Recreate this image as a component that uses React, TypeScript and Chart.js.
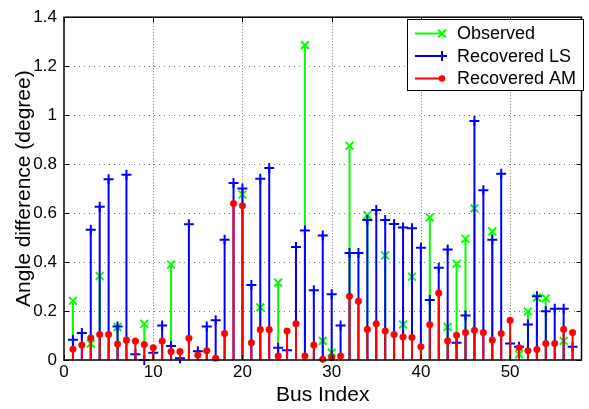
import React, { useEffect, useRef } from "react";
import { Chart, registerables } from "chart.js";

Chart.register(...registerables);

const busIndex = [
  1, 2, 3, 4, 5, 6, 7, 8, 9, 10, 11, 12, 13, 14, 15, 16, 17, 18, 19, 20,
  21, 22, 23, 24, 25, 26, 27, 28, 29, 30, 31, 32, 33, 34, 35, 36, 37, 38, 39, 40,
  41, 42, 43, 44, 45, 46, 47, 48, 49, 50, 51, 52, 53, 54, 55, 56, 57,
];

// null = observed marker hidden behind the other series in the picture
const observed: (number | null)[] = [
  0.242, null, 0.067, 0.343, null, 0.135, null, null, 0.148, null,
  null, 0.39, null, null, null, null, null, null, null, 0.676,
  null, 0.215, null, 0.316, null, null, 1.286, null, 0.078, 0.03,
  null, 0.875, null, 0.592, null, 0.427, null, 0.145, 0.34, null,
  0.582, null, 0.135, 0.393, 0.495, 0.619, null, 0.525, null, null,
  0.023, 0.198, 0.255, 0.252, null, 0.078, null,
];

const recoveredLS = [
  0.083, 0.11, 0.532, 0.626, 0.738, 0.137, 0.757, 0.023, 0.0, 0.03,
  0.141, 0.057, 0.007, 0.554, 0.036, 0.137, 0.162, 0.491, 0.723, 0.7,
  0.306, 0.74, 0.784, 0.05, 0.04, 0.462, 0.529, 0.285, 0.508, 0.269,
  0.141, 0.437, 0.437, 0.572, 0.613, 0.572, 0.555, 0.541, 0.538, 0.458,
  0.245, 0.377, 0.451, 0.07, 0.182, 0.976, 0.693, 0.491, 0.761, 0.067,
  0.054, 0.145, 0.26, 0.199, 0.209, 0.209, 0.054,
];

const recoveredAM = [
  0.044, 0.061, 0.09, 0.104, 0.104, 0.065, 0.081, 0.077, 0.063, 0.05,
  0.077, 0.034, 0.034, 0.089, 0.02, 0.038, 0.007, 0.108, 0.639, 0.63,
  0.07, 0.124, 0.124, 0.016, 0.118, 0.148, 0.016, 0.061, 0.003, 0.01,
  0.016, 0.26, 0.24, 0.125, 0.148, 0.118, 0.104, 0.094, 0.092, 0.054,
  0.144, 0.273, 0.078, 0.101, 0.112, 0.121, 0.112, 0.081, 0.108, 0.162,
  0.05, 0.038, 0.043, 0.067, 0.067, 0.125, 0.112,
];

const seriesLabels = ["Observed", "Recovered LS", "Recovered AM"];
const seriesColors = ["#00ff00", "#0000ff", "#ff0000"];
const seriesMarkers = ["crossRot", "cross", "circle"];

const xTicks = [0, 10, 20, 30, 40, 50];
const yTicks = [0, 0.2, 0.4, 0.6, 0.8, 1, 1.2, 1.4];
const yTickLabels = ["0", "0.2", "0.4", "0.6", "0.8", "1", "1.2", "1.4"];
const xRange = [0, 58];
const yRange = [0, 1.4];

const FONT = "'Liberation Sans', Arial, Helvetica, sans-serif";

function drawMarker(ctx: CanvasRenderingContext2D, style: string, x: number, y: number, color: string) {
  ctx.save();
  ctx.strokeStyle = color;
  ctx.fillStyle = color;
  ctx.lineWidth = 2;
  ctx.beginPath();
  if (style === "cross") {
    ctx.moveTo(x - 5, y);
    ctx.lineTo(x + 5, y);
    ctx.moveTo(x, y - 5);
    ctx.lineTo(x, y + 5);
    ctx.stroke();
  } else if (style === "crossRot") {
    ctx.moveTo(x - 4, y - 4);
    ctx.lineTo(x + 4, y + 4);
    ctx.moveTo(x - 4, y + 4);
    ctx.lineTo(x + 4, y - 4);
    ctx.stroke();
  } else {
    ctx.arc(x, y, 3.3, 0, Math.PI * 2);
    ctx.fill();
  }
  ctx.restore();
}

const stemPlugin = {
  id: "stems",
  beforeDatasetDraw(chart: any, args: any) {
    const ds = chart.data.datasets[args.index];
    const ctx = chart.ctx as CanvasRenderingContext2D;
    const y0 = chart.scales.y.getPixelForValue(0);
    ctx.save();
    ctx.strokeStyle = ds.borderColor;
    ctx.lineWidth = 2;
    args.meta.data.forEach((pt: any) => {
      if (pt.skip || !isFinite(pt.y)) return;
      ctx.beginPath();
      ctx.moveTo(pt.x, y0);
      ctx.lineTo(pt.x, pt.y);
      ctx.stroke();
    });
    ctx.restore();
  },
};

const gridFramePlugin = {
  id: "gridFrame",
  beforeDatasetsDraw(chart: any) {
    const ctx = chart.ctx as CanvasRenderingContext2D;
    const { left, right, top, bottom } = chart.chartArea;
    const xs = chart.scales.x;
    const ys = chart.scales.y;
    ctx.save();
    ctx.strokeStyle = "#7a7a7a";
    ctx.lineWidth = 1;
    ctx.setLineDash([1, 2]);
    xTicks.forEach((v) => {
      if (v === xRange[0]) return;
      const px = Math.round(xs.getPixelForValue(v)) + 0.5;
      ctx.beginPath();
      ctx.moveTo(px, top);
      ctx.lineTo(px, bottom);
      ctx.stroke();
    });
    ctx.setLineDash([1, 4]);
    yTicks.forEach((v) => {
      if (v === yRange[0] || v === yRange[1]) return;
      const py = Math.round(ys.getPixelForValue(v)) + 0.5;
      ctx.beginPath();
      ctx.moveTo(left, py);
      ctx.lineTo(right, py);
      ctx.stroke();
    });
    ctx.restore();
  },
  afterDatasetsDraw(chart: any) {
    const ctx = chart.ctx as CanvasRenderingContext2D;
    const { left, right, top, bottom } = chart.chartArea;
    const xs = chart.scales.x;
    const ys = chart.scales.y;
    ctx.save();
    ctx.strokeStyle = "#000";
    ctx.lineWidth = 1.5;
    ctx.setLineDash([]);
    ctx.strokeRect(left, top, right - left, bottom - top);
    ctx.lineWidth = 1;
    const tl = 5;
    xTicks.forEach((v) => {
      const px = Math.round(xs.getPixelForValue(v)) + 0.5;
      ctx.beginPath();
      ctx.moveTo(px, bottom);
      ctx.lineTo(px, bottom - tl);
      ctx.moveTo(px, top);
      ctx.lineTo(px, top + tl);
      ctx.stroke();
    });
    yTicks.forEach((v) => {
      const py = Math.round(ys.getPixelForValue(v)) + 0.5;
      ctx.beginPath();
      ctx.moveTo(left, py);
      ctx.lineTo(left + tl, py);
      ctx.moveTo(right, py);
      ctx.lineTo(right - tl, py);
      ctx.stroke();
    });

    // legend
    const bx = 407.5, by = 19.5, bw = 176, bh = 71;
    ctx.fillStyle = "#fff";
    ctx.fillRect(bx, by, bw, bh);
    ctx.strokeStyle = "#000";
    ctx.lineWidth = 1;
    ctx.strokeRect(bx, by, bw, bh);
    ctx.font = `18px ${FONT}`;
    ctx.textBaseline = "middle";
    ctx.textAlign = "left";
    const rows = [33.5, 56, 78.5];
    seriesLabels.forEach((lab, i) => {
      const y = rows[i];
      ctx.strokeStyle = seriesColors[i];
      ctx.lineWidth = 2;
      ctx.beginPath();
      ctx.moveTo(415, y);
      ctx.lineTo(442, y);
      ctx.stroke();
      drawMarker(ctx, seriesMarkers[i], 442, y, seriesColors[i]);
      ctx.fillStyle = "#000";
      ctx.fillText(lab, 457, y + 1);
    });
    ctx.restore();
  },
};

export default function App() {
  const ref = useRef<HTMLCanvasElement | null>(null);

  useEffect(() => {
    document.body.style.margin = "0";
    if (!ref.current) return;
    const series = [observed, recoveredLS, recoveredAM];
    const chart = new Chart(ref.current, {
      type: "scatter",
      data: {
        datasets: series.map((vals, i) => ({
          label: seriesLabels[i],
          data: busIndex.map((b, j) => ({ x: b, y: vals[j] })),
          borderColor: seriesColors[i],
          backgroundColor: seriesColors[i],
          pointStyle: seriesMarkers[i] as any,
          pointRadius: i === 2 ? 3.3 : i === 1 ? 5 : 5.5,
          pointBorderWidth: i === 2 ? 0.5 : 2,
          pointHoverRadius: i === 2 ? 3.3 : 5,
          showLine: false,
          clip: false as any,
          order: 2 - i,
        })),
      },
      options: {
        responsive: false,
        animation: false,
        events: [],
        layout: { padding: { top: 13, right: 0, left: 0, bottom: 0 } },
        plugins: {
          legend: { display: false },
          tooltip: { enabled: false },
        },
        scales: {
          x: {
            type: "linear",
            min: xRange[0],
            max: xRange[1],
            afterBuildTicks: (s: any) => {
              s.ticks = xTicks.map((v) => ({ value: v }));
            },
            afterFit: (s: any) => {
              s.height = 49;
            },
            grid: { display: false, drawTicks: false },
            border: { display: false },
            ticks: {
              color: "#000",
              font: { family: FONT, size: 17 },
              padding: 2,
              maxRotation: 0,
              autoSkip: false,
              callback: (v: any) => String(v),
            },
            title: {
              display: true,
              text: "Bus Index",
              color: "#000",
              font: { family: FONT, size: 21 },
              padding: { top: 0, bottom: 1 },
            },
          },
          y: {
            type: "linear",
            min: yRange[0],
            max: yRange[1],
            afterBuildTicks: (s: any) => {
              s.ticks = yTicks.map((v) => ({ value: v }));
            },
            afterFit: (s: any) => {
              s.width = 64;
            },
            grid: { display: false, drawTicks: false },
            border: { display: false },
            ticks: {
              color: "#000",
              font: { family: FONT, size: 17 },
              padding: 7,
              autoSkip: false,
              callback: (v: any) => {
                const k = yTicks.indexOf(Number(v));
                return k >= 0 ? yTickLabels[k] : "";
              },
            },
            title: {
              display: true,
              text: "Angle difference (degree)",
              color: "#000",
              font: { family: FONT, size: 21 },
              padding: { top: 12, bottom: 0 },
            },
          },
        },
      },
      plugins: [stemPlugin, gridFramePlugin],
    });
    return () => chart.destroy();
  }, []);

  return <canvas ref={ref} width={589} height={409} style={{ display: "block" }} />;
}
